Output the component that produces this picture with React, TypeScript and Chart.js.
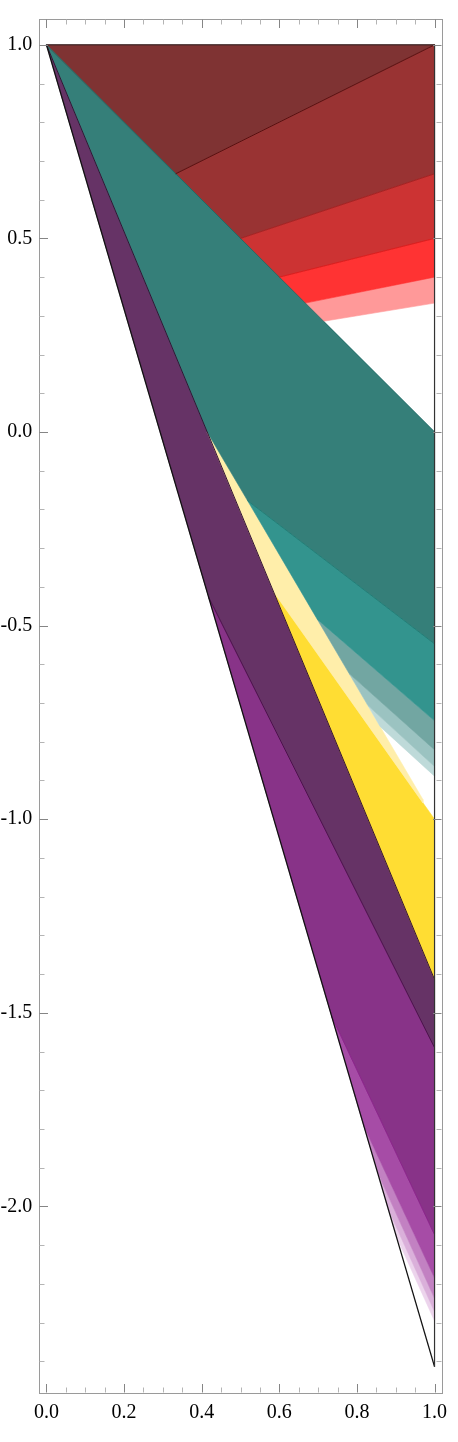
import React, { useEffect, useRef } from "react";
import { Chart, registerables } from "chart.js";

Chart.register(...registerables);

// ---- axis ticks ----
const xTickValues = [0, 0.2, 0.4, 0.6, 0.8, 1.0];
const xMinorTicks = [0.05, 0.1, 0.15, 0.25, 0.3, 0.35, 0.45, 0.5, 0.55, 0.65, 0.7, 0.75, 0.85, 0.9, 0.95];
const yTickValues = [-2.0, -1.5, -1.0, -0.5, 0.0, 0.5, 1.0];
const yMinorTicks = [-2.4, -2.3, -2.2, -2.1, -1.9, -1.8, -1.7, -1.6, -1.4, -1.3, -1.2, -1.1, -0.9, -0.8, -0.7, -0.6, -0.4, -0.3, -0.2, -0.1, 0.1, 0.2, 0.3, 0.4, 0.6, 0.7, 0.8, 0.9];

// ---- key points (x, y) ----
const apexXY = [0, 1];
const topEndXY = [1, 1];          // end of the y = 1 edge
const diagEndXY = [1, 0];         // end of the y = 1 - x edge
const innerEndXY = [1, -1.414];   // end of the purple / yellow edge
const outerEndXY = [1, -2.414];   // end of the outer black edge
const tealKneeXY = [0.414, 0];    // teal meets pale yellow
const yellowKneeXY = [0.586, -0.414];
const yellowTipXY = [1, -1];
const paleCutX = [0.97, 0.97];
const paleCutY = [-0.949, -0.958];

// ---- red family (above y = 1 - x) ----
const redCornerX = [0.333, 0.5, 0.6, 0.667, 0.714];
const redCornerY = [0.667, 0.5, 0.4, 0.333, 0.286];
const redEndY = [1.0, 0.667, 0.5, 0.4, 0.333];
const redFill = ["#7f3333", "#993333", "#cc3333", "#ff3333", "#ff9999"];

// ---- teal family ----
const tealCornerX = [0.518, 0.698, 0.78, 0.828, 0.86];
const tealCornerY = [-0.177, -0.484, -0.624, -0.706, -0.761];
const tealEndY = [-0.547, -0.746, -0.821, -0.864, -0.889];
const tealFill = ["#357f79", "#33948e", "#72a6a2", "#9bc3c1", "#bedad9"];

// ---- yellow family ----
const yellowFill = ["#ffeeaa", "#ffdd33"];

// ---- purple family ----
const purpleCornerX = [0.418, 0.735, 0.818, 0.853, 0.881, 0.902];
const purpleCornerY = [-0.427, -1.509, -1.793, -1.912, -2.008, -2.079];
const purpleEndY = [-1.59, -2.073, -2.185, -2.238, -2.272, -2.296];
const purpleFill = ["#663366", "#883388", "#a64ca6", "#c281c2", "#dab0da", "#ecd4ec"];

type P = { x: number; y: number };
const pt = (a: number[]): P => ({ x: a[0], y: a[1] });
const at1 = (y: number): P => ({ x: 1, y });

function poly(pts: P[], color: string) {
  return {
    data: [...pts, pts[0]],
    showLine: true,
    fill: "shape",
    backgroundColor: color,
    borderColor: color,
    borderWidth: 0.6,
    pointRadius: 0,
    tension: 0,
  };
}
function edge(pts: P[], color: string, w: number) {
  return {
    data: pts,
    showLine: true,
    fill: false,
    borderColor: color,
    borderWidth: w,
    pointRadius: 0,
    tension: 0,
  };
}

function buildDatasets() {
  const apex = pt(apexXY);
  const rc = (i: number): P => ({ x: redCornerX[i], y: redCornerY[i] });
  const tc = (i: number): P => ({ x: tealCornerX[i], y: tealCornerY[i] });
  const pc = (i: number): P => ({ x: purpleCornerX[i], y: purpleCornerY[i] });

  const fills: any[] = [];
  // red
  fills.push(poly([apex, pt(topEndXY), rc(0)], redFill[0]));
  for (let k = 1; k < redCornerX.length; k++) {
    fills.push(poly([rc(k - 1), at1(redEndY[k - 1]), at1(redEndY[k]), rc(k)], redFill[k]));
  }
  // teal
  fills.push(poly([apex, pt(diagEndXY), at1(tealEndY[0]), tc(0), pt(tealKneeXY)], tealFill[0]));
  for (let k = 1; k < tealCornerX.length; k++) {
    fills.push(poly([tc(k - 1), at1(tealEndY[k - 1]), at1(tealEndY[k]), tc(k)], tealFill[k]));
  }
  // yellow
  fills.push(
    poly(
      [pt(tealKneeXY), { x: paleCutX[0], y: paleCutY[0] }, { x: paleCutX[1], y: paleCutY[1] }, pt(yellowKneeXY)],
      yellowFill[0]
    )
  );
  fills.push(poly([pt(yellowKneeXY), pt(yellowTipXY), pt(innerEndXY)], yellowFill[1]));
  // purple
  fills.push(poly([apex, pt(innerEndXY), at1(purpleEndY[0]), pc(0)], purpleFill[0]));
  for (let k = 1; k < purpleCornerX.length; k++) {
    fills.push(poly([pc(k - 1), at1(purpleEndY[k - 1]), at1(purpleEndY[k]), pc(k)], purpleFill[k]));
  }

  const edges: any[] = [
    edge([apex, pt(topEndXY)], "#2a2222", 1),
    edge([pt(topEndXY), pt(outerEndXY)], "#333333", 1.2),
    edge([apex, pt(outerEndXY)], "#111111", 1.3),
    edge([rc(0), at1(redEndY[0])], "#5a0f0f", 1),
    edge([rc(1), at1(redEndY[1])], "#a81a1a", 0.8),
    edge([rc(2), at1(redEndY[2])], "#e01515", 0.8),
    edge([apex, pt(diagEndXY)], "#1f6b66", 1),
    edge([tc(0), at1(tealEndY[0])], "#1b7c75", 0.8),
    edge([apex, pt(innerEndXY)], "#331133", 1),
    edge([pc(0), at1(purpleEndY[0])], "#4d0f4d", 1),
    edge([pc(1), at1(purpleEndY[1])], "#8a1e8a", 0.8),
  ];
  return [...edges, ...fills];
}

const framePlugin = {
  id: "mmaFrame",
  afterDraw(chart: any) {
    const { ctx, chartArea: a } = chart;
    const xs = chart.scales.x;
    const ys = chart.scales.y;
    ctx.save();
    ctx.lineWidth = 1;
    ctx.strokeStyle = "#9a9a9a";
    ctx.strokeRect(Math.round(a.left) + 0.5, Math.round(a.top) + 0.5, Math.round(a.width) - 1, Math.round(a.height) - 1);
    const L = Math.round(a.left) + 0.5;
    const R = Math.round(a.right) - 0.5;
    const T = Math.round(a.top) + 0.5;
    const B = Math.round(a.bottom) - 0.5;
    const vtick = (v: number, len: number, color: string) => {
      const px = Math.round(xs.getPixelForValue(v)) + 0.5;
      ctx.strokeStyle = color;
      ctx.beginPath();
      ctx.moveTo(px, B);
      ctx.lineTo(px, B - len);
      ctx.moveTo(px, T);
      ctx.lineTo(px, T + len);
      ctx.stroke();
    };
    const htick = (v: number, len: number, color: string) => {
      const py = Math.round(ys.getPixelForValue(v)) + 0.5;
      ctx.strokeStyle = color;
      ctx.beginPath();
      ctx.moveTo(L, py);
      ctx.lineTo(L + len, py);
      ctx.moveTo(R, py);
      ctx.lineTo(R - len, py);
      ctx.stroke();
    };
    xMinorTicks.forEach((v) => vtick(v, 5, "#b4b4b4"));
    xTickValues.forEach((v) => vtick(v, 8.5, "#858585"));
    yMinorTicks.forEach((v) => htick(v, 5, "#b4b4b4"));
    yTickValues.forEach((v) => htick(v, 8.5, "#858585"));
    ctx.restore();
  },
};

const labelFont = { family: "'Liberation Serif', 'Times New Roman', serif", size: 20 };

export default function App() {
  const ref = useRef<HTMLCanvasElement | null>(null);
  useEffect(() => {
    if (!ref.current) return;
    const chart = new Chart(ref.current, {
      type: "scatter",
      data: { datasets: buildDatasets() as any },
      options: {
        animation: false,
        responsive: false,
        events: [],
        layout: { padding: { top: 16.7, right: 15.7, left: 0, bottom: 0 } },
        plugins: { legend: { display: false }, tooltip: { enabled: false } },
        scales: {
          x: {
            type: "linear",
            min: -0.02,
            max: 1.02,
            grid: { display: false, drawTicks: false },
            border: { display: false },
            afterBuildTicks: (s: any) => {
              s.ticks = xTickValues.map((v) => ({ value: v }));
            },
            afterFit: (s: any) => {
              s.height = 49;
            },
            ticks: {
              autoSkip: false,
              maxRotation: 0,
              padding: 8,
              color: "#000",
              font: labelFont,
              callback: (v: any) => Number(v).toFixed(1),
            },
          },
          y: {
            type: "linear",
            min: -2.482,
            max: 1.068,
            grid: { display: false, drawTicks: false },
            border: { display: false },
            afterBuildTicks: (s: any) => {
              s.ticks = yTickValues.map((v) => ({ value: v }));
            },
            afterFit: (s: any) => {
              s.width = 38.7;
            },
            ticks: {
              autoSkip: false,
              padding: 6.5,
              color: "#000",
              font: labelFont,
              callback: (v: any) => Number(v).toFixed(1),
            },
          },
        },
      },
      plugins: [framePlugin],
    } as any);
    return () => chart.destroy();
  }, []);
  return (
    <div style={{ position: "fixed", left: 0, top: 0, width: 458, height: 1442, background: "#fff" }}>
      <canvas ref={ref} width={458} height={1442} style={{ display: "block" }} />
    </div>
  );
}
